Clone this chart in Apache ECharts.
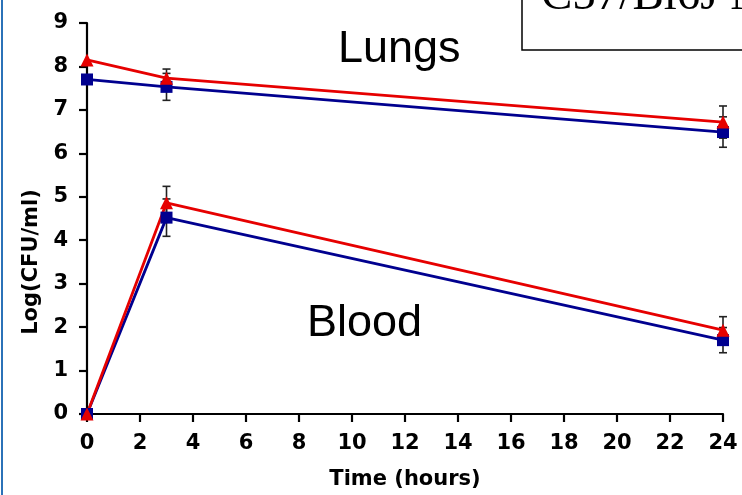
<!DOCTYPE html>
<html>
<head>
<meta charset="utf-8">
<script src="https://cdn.jsdelivr.net/npm/echarts@6/dist/echarts.min.js"></script>
<style>
  html, body { margin: 0; padding: 0; background: #fff; }
  #chart { width: 742px; height: 495px; }
</style>
</head>
<body>
<div id="chart"></div>
<script>
// Sampling times (hours)
const times = [0, 3, 24];
const xTicks = [0, 2, 4, 6, 8, 10, 12, 14, 16, 18, 20, 22, 24];
const yTicks = [0, 1, 2, 3, 4, 5, 6, 7, 8, 9];

// Log(CFU/ml), mean and error for each group
const lungsBlue = [7.70, 7.53, 6.49];
const lungsBlueErr = [0, 0.31, 0.35];
const lungsRed = [8.15, 7.73, 6.72];
const lungsRedErr = [0, 0.21, 0.37];
const bloodBlue = [0, 4.52, 1.70];
const bloodBlueErr = [0, 0.43, 0.29];
const bloodRed = [0, 4.86, 1.93];
const bloodRedErr = [0, 0.38, 0.31];

const BLUE = '#00008f';
const RED = '#e60000';
const LABEL_FONT = 'DejaVu Sans';

const pairs = (vals) => times.map((t, i) => [t, vals[i]]);
const errRows = (vals, errs) => times.map((t, i) => [t, vals[i] - errs[i], vals[i] + errs[i]]).filter((r, i) => errs[i] > 0);

const allErr = [
  ...errRows(lungsBlue, lungsBlueErr),
  ...errRows(lungsRed, lungsRedErr),
  ...errRows(bloodBlue, bloodBlueErr),
  ...errRows(bloodRed, bloodRedErr)
];

function lineSeries(vals, color, symbol, size) {
  return {
    type: 'line',
    data: pairs(vals),
    symbol: symbol,
    symbolSize: size,
    showAllSymbol: true,
    clip: false,
    z: 3,
    lineStyle: { color: color, width: 2.8 },
    itemStyle: { color: color, opacity: 1 },
    emphasis: { disabled: true },
    animation: false
  };
}

const chart = echarts.init(document.getElementById('chart'), null, { renderer: 'canvas' });

chart.setOption({
  animation: false,
  backgroundColor: '#ffffff',
  grid: { left: 87, right: 19, top: 23, bottom: 79, containLabel: false },
  xAxis: {
    type: 'value',
    min: xTicks[0],
    max: xTicks[xTicks.length - 1],
    interval: 2,
    name: 'Time (hours)',
    nameLocation: 'middle',
    nameGap: 55,
    nameTextStyle: { fontFamily: LABEL_FONT, fontWeight: 'bold', fontSize: 21, color: '#000' },
    axisLine: { show: true, onZero: false, lineStyle: { color: '#000', width: 2.2 } },
    axisTick: { show: true, inside: false, length: 8, lineStyle: { color: '#000', width: 2.2 } },
    axisLabel: { margin: 19, fontFamily: LABEL_FONT, fontWeight: 'bold', fontSize: 21, color: '#000' },
    splitLine: { show: false }
  },
  yAxis: {
    type: 'value',
    min: yTicks[0],
    max: yTicks[yTicks.length - 1],
    interval: 1,
    axisLine: { show: true, onZero: false, lineStyle: { color: '#000', width: 2.2 } },
    axisTick: { show: true, inside: false, length: 8, lineStyle: { color: '#000', width: 2.2 } },
    axisLabel: { margin: 19, fontFamily: LABEL_FONT, fontWeight: 'bold', fontSize: 21, color: '#000' },
    splitLine: { show: false }
  },
  series: [
    {
      // error bars, drawn beneath the markers
      type: 'custom',
      data: allErr,
      z: 2,
      clip: false,
      renderItem: function (params, api) {
        const x = api.value(0);
        const lo = api.coord([x, api.value(1)]);
        const hi = api.coord([x, api.value(2)]);
        const cap = 4;
        const st = { stroke: '#222', lineWidth: 1.6 };
        return {
          type: 'group',
          children: [
            { type: 'line', shape: { x1: lo[0], y1: lo[1], x2: hi[0], y2: hi[1] }, style: st },
            { type: 'line', shape: { x1: lo[0] - cap, y1: lo[1], x2: lo[0] + cap, y2: lo[1] }, style: st },
            { type: 'line', shape: { x1: hi[0] - cap, y1: hi[1], x2: hi[0] + cap, y2: hi[1] }, style: st }
          ]
        };
      }
    },
    lineSeries(lungsBlue, BLUE, 'rect', 12),
    lineSeries(bloodBlue, BLUE, 'rect', 12),
    lineSeries(lungsRed, RED, 'triangle', 13),
    lineSeries(bloodRed, RED, 'triangle', 13)
  ],
  graphic: [
    { type: 'rect', shape: { x: 1, y: 0, width: 2, height: 495 }, style: { fill: '#2b72b8' }, z: 10 },
    { type: 'rect', shape: { x: 522, y: -10, width: 240, height: 60 }, style: { fill: '#fff', stroke: '#000', lineWidth: 1.5 }, z: 10 },
    { type: 'text', x: 541, y: -3, z: 11,
      style: { text: 'C57/Bl6J Mice', font: '47px "Liberation Serif"', fill: '#000', textAlign: 'left', textVerticalAlign: 'middle' } },
    { type: 'text', x: 338, y: 50, z: 11,
      style: { text: 'Lungs', font: '45px "Liberation Sans"', fill: '#000', textAlign: 'left', textVerticalAlign: 'middle' } },
    { type: 'text', x: 307, y: 324, z: 11,
      style: { text: 'Blood', font: '45px "Liberation Sans"', fill: '#000', textAlign: 'left', textVerticalAlign: 'middle' } },
    { type: 'text', x: 32, y: 262, rotation: Math.PI / 2, z: 11,
      style: { text: 'Log(CFU/ml)', font: 'bold 21px "DejaVu Sans"', fill: '#000', textAlign: 'center', textVerticalAlign: 'middle' } }
  ]
});
</script>
</body>
</html>
